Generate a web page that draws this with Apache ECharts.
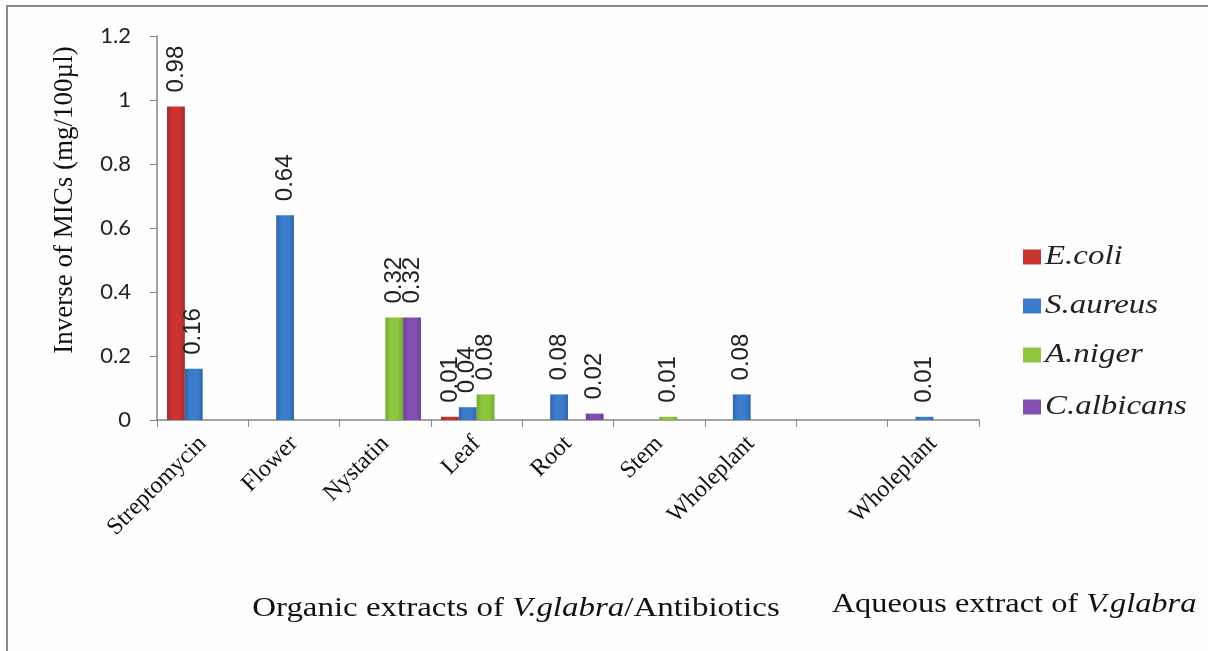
<!DOCTYPE html>
<html><head><meta charset="utf-8">
<script src="https://cdn.jsdelivr.net/npm/echarts@6/dist/echarts.min.js"></script>
<style>html,body{margin:0;padding:0;background:#fff}#c{width:1208px;height:651px}</style>
</head><body><div id="c"></div>
<script>
const categories = ['Streptomycin','Flower','Nystatin','Leaf','Root','Stem','Wholeplant','','Wholeplant'];
const seriesNames = ['E.coli','S.aureus','A.niger','C.albicans'];
const ecoli     = [0.98, null, null, 0.01, null, null, null, null, null];
const saureus   = [0.16, 0.64, null, 0.04, 0.08, null, 0.08, null, 0.01];
const aniger    = [null, null, 0.32, 0.08, null, 0.01, null, null, null];
const calbicans = [null, null, 0.32, null, 0.02, null, null, null, null];
const yTicks = [0, 0.2, 0.4, 0.6, 0.8, 1, 1.2];

const colors = ['#c93434','#3c7ccc','#8ec63f','#8150b0'];
const darks  = ['#a82828','#2f66ab','#76a832','#6a3f95'];
const allData = [ecoli, saureus, aniger, calbicans];

const serif = '"Liberation Serif","Times New Roman",serif';
const grad = i => new echarts.graphic.LinearGradient(0, 0, 1, 0, [
  {offset: 0, color: darks[i]}, {offset: 0.3, color: colors[i]}, {offset: 0.7, color: colors[i]}, {offset: 1, color: darks[i]}]);

const legendY = [257, 306, 355, 407];
const legendGraphics = [];
seriesNames.forEach((n, i) => {
  legendGraphics.push({type: 'rect', shape: {x: 1023, y: legendY[i] - 7.5, width: 18, height: 15}, style: {fill: colors[i]}, silent: true});
  legendGraphics.push({type: 'text', x: 1045, y: legendY[i], scaleX: 1.22,
    style: {text: n, font: 'italic 27px ' + serif, fill: '#222', align: 'left', verticalAlign: 'middle'}});
});

const chart = echarts.init(document.getElementById('c'));
chart.setOption({
  backgroundColor: '#fefefe',
  animation: false,
  grid: {left: 157, right: 229, top: 36, bottom: 231, containLabel: false},
  xAxis: {
    type: 'category', data: categories,
    axisLine: {lineStyle: {color: '#868686', width: 1.5}},
    axisTick: {show: true, alignWithLabel: false, length: 7, lineStyle: {color: '#868686'}},
    axisLabel: {rotate: 45, margin: 20, interval: 0, fontFamily: serif, fontSize: 24, color: '#111'}
  },
  yAxis: {
    type: 'value', min: 0, max: 1.2, interval: 0.2,
    axisLine: {show: true, lineStyle: {color: '#868686', width: 1.5}},
    axisTick: {show: true, length: 7, lineStyle: {color: '#868686'}},
    splitLine: {show: false},
    axisLabel: {margin: 26, fontFamily: 'Lato, "Liberation Sans", sans-serif', fontSize: 22, color: '#222',
      formatter: v => { const t = yTicks.find(x => Math.abs(x - v) < 1e-9); return t === undefined ? '' : String(t); }}
  },
  series: allData.map((d, i) => ({
    name: seriesNames[i], type: 'bar', data: d,
    barGap: '0%', barCategoryGap: '22%',
    itemStyle: {color: grad(i)},
    label: {show: true, position: 'top', rotate: 90, align: 'left', verticalAlign: 'middle', distance: 14,
      fontFamily: '"Liberation Sans", Arial, sans-serif', fontSize: 24, color: '#222'}
  })),
  graphic: [
    {type: 'rect', shape: {x: 7, y: 6, width: 1300, height: 700}, style: {fill: 'none', stroke: '#8a8a8a', lineWidth: 2}, silent: true},
    {type: 'text', x: 65, y: 200, rotation: Math.PI/2,
      style: {text: 'Inverse of MICs (mg/100µl)', font: '27px ' + serif, fill: '#111', align: 'center', verticalAlign: 'middle'}},
    {type: 'text', x: 516, y: 609, scaleX: 1.22,
      style: {text: '{n|Organic extracts of }{i|V.glabra}{n|/Antibiotics}', align: 'center', verticalAlign: 'middle',
        rich: {n: {font: '27px ' + serif, fill: '#111'}, i: {font: 'italic 27px ' + serif, fill: '#111'}}}},
    {type: 'text', x: 1014, y: 605, scaleX: 1.2,
      style: {text: '{n|Aqueous extract of }{i|V.glabra}', align: 'center', verticalAlign: 'middle',
        rich: {n: {font: '27px ' + serif, fill: '#111'}, i: {font: 'italic 27px ' + serif, fill: '#111'}}}}
  ].concat(legendGraphics)
});
</script></body></html>
